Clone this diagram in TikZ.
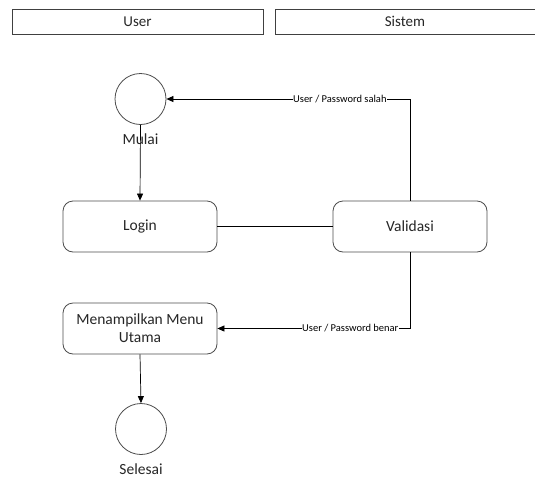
\documentclass[tikz,border=0pt]{standalone}
\usepackage{fontspec}
\setmainfont{Carlito}
\usetikzlibrary{arrows.meta}
\begin{document}
\begin{tikzpicture}[x=1pt,y=-1pt,
  lane/.style={draw=black!75,line width=0.8pt,minimum width=251pt,minimum height=25pt,inner sep=0pt,font=\fontsize{15}{17}\selectfont,text=black!85},
  act/.style={draw=black!70,line width=0.8pt,rounded corners=10pt,minimum width=154pt,minimum height=51pt,inner sep=2pt,align=center,font=\fontsize{15.5}{18}\selectfont,text=black!85},
  term/.style={circle,draw=black!70,line width=0.8pt,minimum size=51pt,inner sep=0pt},
  termlabel/.style={font=\fontsize{15.5}{17}\selectfont,text=black!85},
  flow/.style={draw=black,line width=0.7pt,-{Triangle[length=7pt,width=6pt]}},
  tag/.style={fill=white,inner sep=0.5pt,font=\fontsize{10.5}{11}\selectfont}]
\useasboundingbox (0,0) rectangle (535,477);
% swimlane headers
\node[lane] (user) at (137.5,21.5) {User};
\node[lane,minimum width=260pt] (sistem) at (405,21.5) {Sistem};
% start / end
\node[term] (mulai) at (140.5,99) {};
\node[termlabel] (lmulai) at (140.5,139) {Mulai};
\node[term] (selesai) at (141,429) {};
\node[termlabel] (lselesai) at (141,469) {Selesai};
% activities
\node[act] (login) at (140,226.5) {Login};
\node[act] (validasi) at (410,226.5) {Validasi};
\node[act] (menu) at (140,328.5) {Menampilkan Menu\\Utama};
% connectors
\draw[flow] (mulai.south) -- (login.north);
\draw[draw=black,line width=0.7pt] (login.east) -- (validasi.west);
\draw[flow] (validasi.north) |- node[tag,pos=0.644] {User / Password salah} (mulai.east);
\draw[flow] (validasi.south) |- node[tag,pos=0.655] {User / Password benar} (menu.east);
\draw[flow] (menu.south) -- (selesai.north);
\end{tikzpicture}
\end{document}
